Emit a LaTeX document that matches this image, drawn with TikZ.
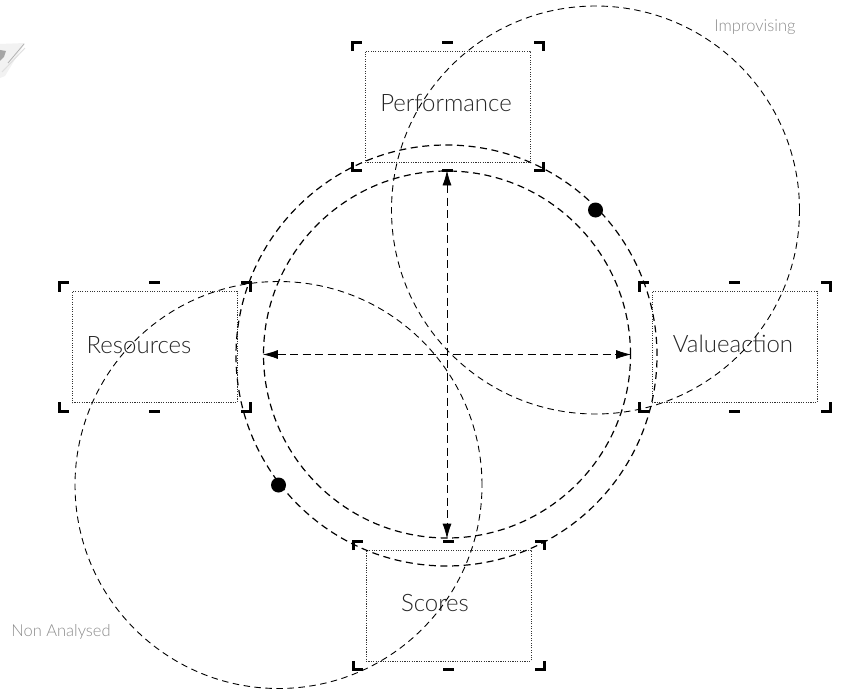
\documentclass[tikz,border=0pt]{standalone}
\usepackage{fontspec}
\setmainfont{Lato Light}
\usetikzlibrary{arrows.meta}
\definecolor{lbl}{gray}{0.15}
\definecolor{faint}{gray}{0.55}
\tikzset{
  x=1pt,y=-1pt,
  ring/.style={circle,draw=black,dash pattern=on 7pt off 4.6pt,line width=1.2pt,inner sep=0,minimum size=#1},
  thinring/.style={circle,draw=black,dash pattern=on 6.5pt off 4.5pt,line width=0.9pt,inner sep=0,minimum size=#1},
  boxnode/.style={draw=black!80,dash pattern=on 1.1pt off 1.3pt,line width=0.9pt,minimum width=165pt,minimum height=111pt,inner sep=0},
  boxtext/.style={font=\fontsize{24}{26}\selectfont,text=lbl,inner sep=0},
  axis/.style={dash pattern=on 8pt off 4.5pt,line width=0.8pt,{Latex[length=15pt,width=9pt]}-{Latex[length=15pt,width=9pt]}},
  mark line/.style={line width=3pt,draw=black},
  note/.style={font=\fontsize{16.5}{18}\selectfont,text=faint,inner sep=0},
  knob/.style={circle,fill=black,inner sep=0,minimum size=15pt},
}
\newcommand{\cropmarks}[1]{%
  \path (#1.north west) ++(-12,-8.5) coordinate (nw) (#1.south east) ++(13,8.5) coordinate (se);
  \draw[mark line] (nw) ++(0,9) -- (nw) -- ++(9,0);
  \draw[mark line] (nw -| se) ++(-9,0) -- (nw -| se) -- ++(0,9);
  \draw[mark line] (nw |- se) ++(0,-9) -- (nw |- se) -- ++(9,0);
  \draw[mark line] (se) ++(-9,0) -- (se) -- ++(0,-9);
  \draw[mark line] (#1.north |- nw) ++(-5.5,0) -- ++(11,0);
  \draw[mark line] (#1.south |- se) ++(-5.5,0) -- ++(11,0);
}
\begin{document}
\begin{tikzpicture}
\useasboundingbox (0,0) rectangle (843,693);
% faint thumbnail
\fill[black!5] (0,44) -- (25,43) -- (5,76) -- (0,78) -- cycle;
\draw[black!30,line width=0.8pt] (8,63) -- (24,44);
\draw[black!12,line width=1pt] (2,72) -- (25,48);
\fill[black!35] (0,50) -- (6,51) -- (4,57) -- (0,61) -- cycle;
% boxes
\node[boxnode] (perf) at (447.5,106.5) {};
\node[boxnode] (res) at (154.5,347) {};
\node[boxnode] (val) at (734.5,347) {};
\node[boxnode] (sco) at (448.5,605.5) {};
\node[boxtext] (perft) at (446,103) {Performance};
\node[boxtext] (rest) at (139,345) {Resources};
\node[boxtext] (valt) at (733,344) {Valueaction};
\node[boxtext] (scot) at (435,603) {Scores};
\cropmarks{perf}\cropmarks{res}\cropmarks{val}\cropmarks{sco}
% rings
\node[ring=421pt] (outer) at (446.5,355.5) {};
\node[ring=367pt] (inner) at (447,354.5) {};
\node[thinring=408pt] (up) at (595.5,210) {};
\node[thinring=407pt] (low) at (278.5,485) {};
\node[knob] (upk) at (up.center) {};
\node[knob] (lowk) at (low.center) {};
% axes
\draw[axis] (inner.north) -- (inner.south);
\draw[axis] (inner.west) -- (inner.east);
% notes
\node[note] (imp) at (755,27) {Improvising};
\node[note] (non) at (61,632) {Non Analysed};
\end{tikzpicture}
\end{document}
